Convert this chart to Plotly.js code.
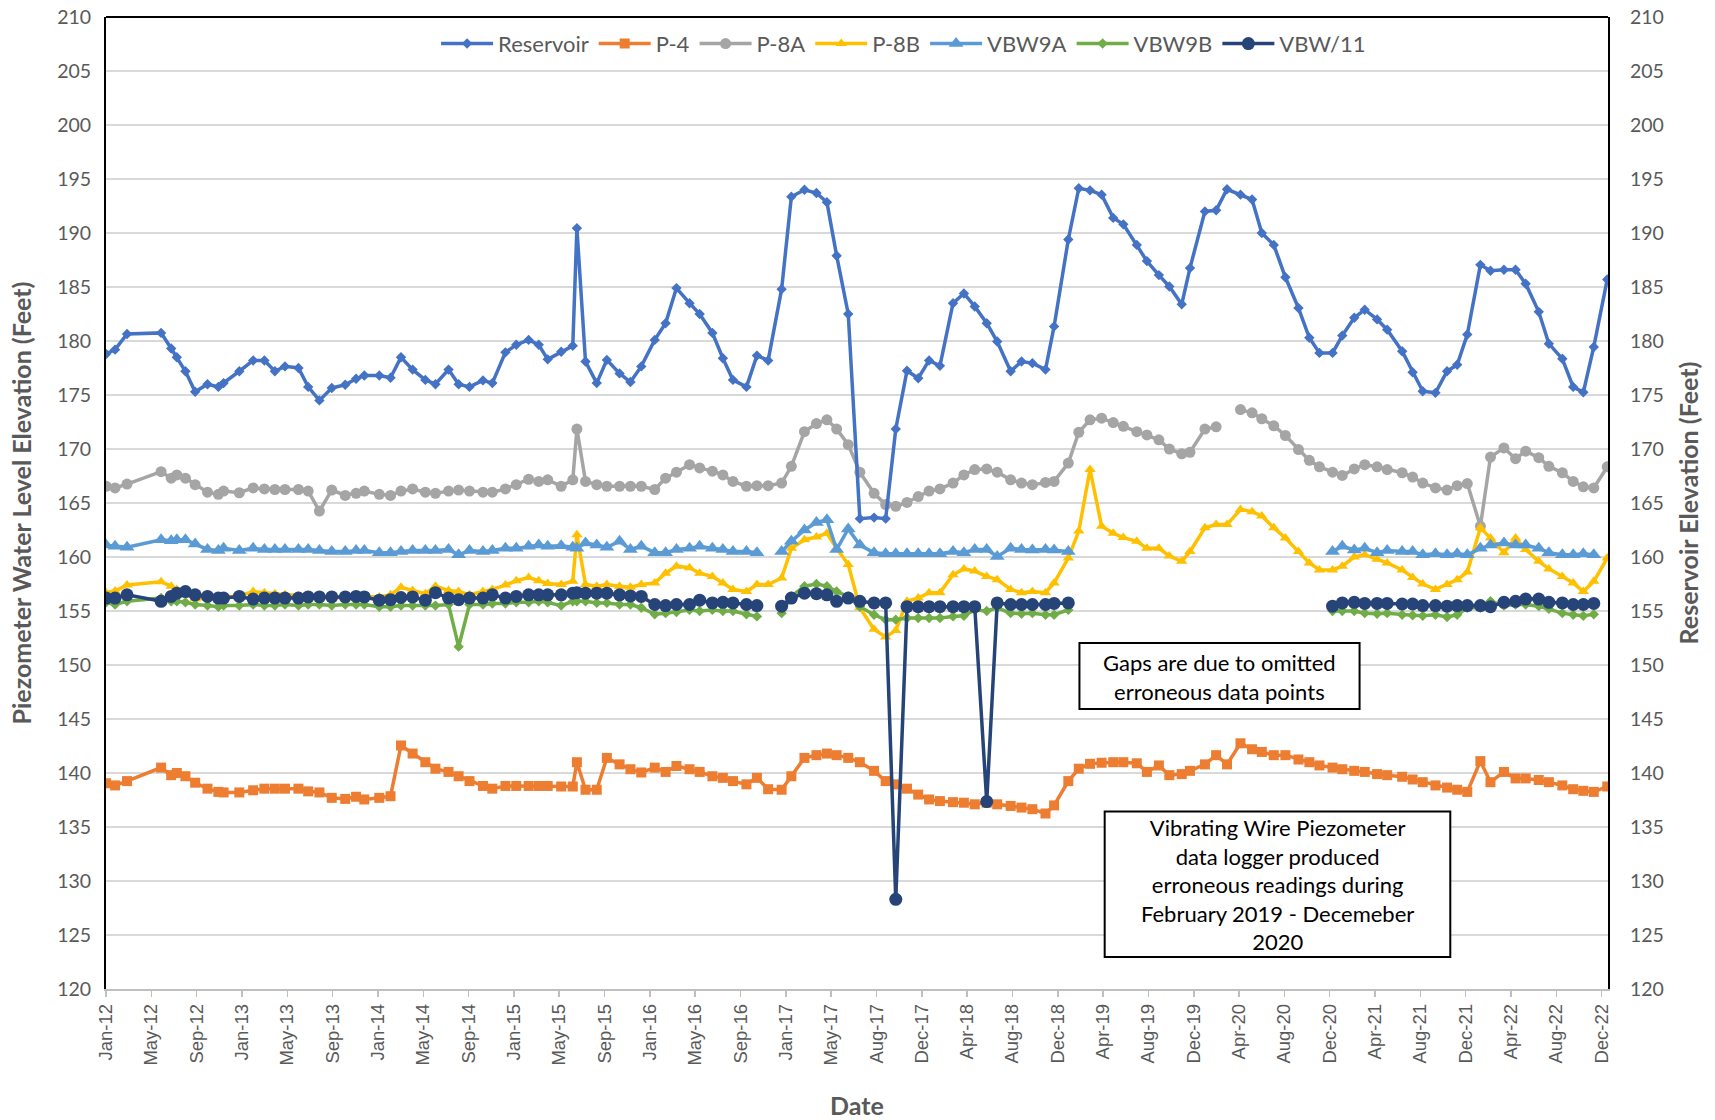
<!DOCTYPE html>
<html>
<head>
<meta charset="utf-8">
<script src="https://cdn.plot.ly/plotly-3.0.1.min.js"></script>
<style>html,body{margin:0;padding:0;background:#fff;}#chart{width:1715px;height:1120px;}</style>
</head>
<body>
<div id="chart"></div>
<script>
// Sample dates (shared by all series)
const sampleDates = [
'2012-01-12','2012-02-05','2012-03-08','2012-06-07','2012-07-04','2012-07-19','2012-08-11','2012-09-06','2012-10-09','2012-11-07','2012-11-21',
'2013-01-02','2013-02-08','2013-03-10','2013-04-07','2013-05-04','2013-06-09','2013-07-05','2013-08-04','2013-09-06','2013-10-12','2013-11-10','2013-12-02',
'2014-01-11','2014-02-10','2014-03-10','2014-04-10','2014-05-14','2014-06-10','2014-07-15','2014-08-11','2014-09-09','2014-10-15','2014-11-09','2014-12-14',
'2015-01-12','2015-02-14','2015-03-13','2015-04-06','2015-05-12','2015-06-12','2015-06-23','2015-07-16','2015-08-15','2015-09-11','2015-10-15','2015-11-13','2015-12-12',
'2016-01-17','2016-02-15','2016-03-15','2016-04-19','2016-05-16','2016-06-19','2016-07-17','2016-08-13','2016-09-18','2016-10-16','2016-11-15','2016-12-21',
'2017-01-16','2017-02-20','2017-03-24','2017-04-21','2017-05-17','2017-06-17','2017-07-18','2017-08-25','2017-09-25','2017-10-22','2017-11-21','2017-12-21',
'2018-01-19','2018-02-17','2018-03-24','2018-04-22','2018-05-21','2018-06-22','2018-07-20','2018-08-25','2018-09-23','2018-10-22','2018-11-26','2018-12-19',
'2019-01-26','2019-02-23','2019-03-25','2019-04-25','2019-05-26','2019-06-22','2019-07-28','2019-08-24','2019-09-25','2019-10-23','2019-11-25','2019-12-17',
'2020-01-26','2020-02-25','2020-03-25','2020-04-30','2020-05-31','2020-06-26','2020-07-28','2020-08-28','2020-10-02','2020-10-31','2020-11-27',
'2021-01-01','2021-01-27','2021-02-28','2021-03-28','2021-04-30','2021-05-27','2021-07-06','2021-08-03','2021-08-30','2021-10-03','2021-11-03','2021-11-30','2021-12-27',
'2022-01-31','2022-02-27','2022-04-04','2022-05-05','2022-06-01','2022-07-06','2022-08-02','2022-09-07','2022-10-06','2022-11-02','2022-11-30','2023-01-05'
];

const seriesNames = ['Reservoir','P-4','P-8A','P-8B','VBW9A','VBW9B','VBW/11'];

const reservoir = [
178.8,179.2,180.65,180.75,179.3,178.5,177.2,175.3,176.0,175.75,176.1,
177.2,178.2,178.2,177.2,177.65,177.5,175.75,174.5,175.65,175.95,176.5,176.8,
176.8,176.6,178.5,177.35,176.4,176.0,177.35,176.0,175.75,176.35,176.1,178.95,
179.65,180.1,179.65,178.3,179.0,179.55,190.45,178.1,176.1,178.25,177.0,176.2,177.65,
180.1,181.65,184.9,183.5,182.5,180.75,178.4,176.4,175.75,178.65,178.2,184.8,
193.35,194.0,193.7,192.85,187.9,182.5,163.55,163.65,163.55,171.85,177.25,176.55,
178.2,177.7,183.5,184.4,183.2,181.65,179.95,177.2,178.1,177.95,177.35,181.35,
189.4,194.15,193.95,193.55,191.4,190.8,188.9,187.4,186.1,185.05,183.4,186.75,
192.0,192.1,194.05,193.55,193.1,190.0,188.9,185.9,183.05,180.3,178.9,
178.9,180.5,182.15,182.9,182.0,181.05,179.05,177.1,175.35,175.2,177.2,177.8,180.6,
187.05,186.5,186.6,186.6,185.3,182.7,179.75,178.35,175.75,175.25,179.45,185.7
];

const p4 = [
139.05,138.85,139.25,140.5,139.8,140.0,139.7,139.1,138.55,138.25,138.2,
138.2,138.4,138.55,138.55,138.55,138.55,138.3,138.2,137.7,137.6,137.8,137.55,
137.7,137.85,142.55,141.8,141.0,140.4,140.1,139.7,139.25,138.8,138.55,138.8,
138.8,138.8,138.8,138.8,138.75,138.75,141.0,138.45,138.45,141.4,140.8,140.35,140.05,
140.5,140.1,140.65,140.35,140.1,139.7,139.55,139.25,138.95,139.55,138.5,138.45,
139.7,141.4,141.65,141.8,141.65,141.4,141.0,140.2,139.25,138.95,138.55,138.0,
137.55,137.4,137.3,137.25,137.1,137.25,137.1,136.95,136.8,136.65,136.25,137.0,
139.25,140.4,140.85,140.95,141.0,141.0,140.9,140.1,140.7,139.8,139.9,140.2,
140.8,141.65,140.8,142.75,142.2,141.95,141.65,141.65,141.25,141.0,140.7,
140.5,140.35,140.2,140.1,139.9,139.8,139.65,139.4,139.15,138.85,138.65,138.45,138.25,
141.1,139.15,140.1,139.5,139.5,139.35,139.15,138.85,138.5,138.35,138.25,138.75
];

const p8a = [
166.55,166.4,166.75,167.9,167.3,167.6,167.3,166.7,166.0,165.8,166.1,
165.95,166.4,166.3,166.25,166.25,166.25,166.1,164.25,166.2,165.7,165.9,166.1,
165.8,165.7,166.1,166.3,166.0,165.9,166.1,166.2,166.1,166.0,166.0,166.3,
166.7,167.2,167.0,167.15,166.55,167.15,171.85,167.0,166.7,166.55,166.55,166.55,166.55,
166.25,167.3,167.85,168.55,168.25,167.95,167.6,167.0,166.55,166.6,166.6,166.85,
168.4,171.6,172.35,172.7,171.85,170.4,167.85,165.9,164.85,164.7,165.05,165.6,
166.1,166.3,166.85,167.6,168.1,168.15,167.85,167.15,166.85,166.7,166.9,167.0,
168.7,171.55,172.7,172.85,172.45,172.1,171.6,171.3,170.85,170.0,169.55,169.7,
171.85,172.05,null,173.65,173.35,172.8,172.15,171.25,169.95,168.95,168.35,
167.85,167.55,168.15,168.55,168.35,168.1,167.8,167.4,166.85,166.4,166.2,166.6,166.8,
162.85,169.25,170.1,169.1,169.8,169.2,168.4,167.8,167.0,166.5,166.4,168.35
];

const p8b = [
156.7,156.85,157.4,157.7,157.3,157.0,156.6,156.1,156.2,156.2,156.3,
156.4,156.8,156.7,156.6,156.5,156.4,156.35,156.3,156.2,156.3,156.4,156.35,
156.3,156.5,157.2,156.9,156.6,157.3,156.9,156.8,156.5,156.8,157.0,157.4,
157.8,158.1,157.8,157.55,157.45,157.75,162.05,157.45,157.3,157.45,157.3,157.2,157.45,
157.6,158.5,159.15,159.0,158.5,158.2,157.6,157.0,156.8,157.45,157.45,158.05,
160.8,161.6,161.85,162.2,160.8,159.3,155.3,153.3,152.6,153.2,155.9,156.2,
156.7,156.7,158.35,158.9,158.7,158.2,157.9,157.0,156.7,156.8,156.7,157.6,
159.9,162.4,168.1,162.85,162.2,161.8,161.45,160.8,160.8,160.1,159.6,160.5,
162.7,163.0,163.0,164.4,164.2,163.8,162.7,161.75,160.5,159.45,158.8,
158.8,159.15,160.0,160.2,159.8,159.45,158.8,158.1,157.5,157.0,157.45,157.9,158.6,
162.7,161.75,160.4,161.75,160.7,159.6,158.9,158.2,157.6,156.8,157.75,159.9
];

const vbw9a = [
161.1,161.0,160.9,161.6,161.5,161.6,161.6,161.2,160.7,160.6,160.8,
160.6,160.8,160.7,160.7,160.7,160.7,160.7,160.6,160.5,160.5,160.6,160.6,
160.4,160.4,160.5,160.6,160.6,160.6,160.7,160.2,160.6,160.5,160.6,160.8,
160.8,161.0,161.1,161.0,161.05,160.9,160.8,161.3,161.1,160.9,161.45,160.7,161.0,
160.4,160.4,160.7,160.8,161.0,160.8,160.7,160.5,160.5,160.4,null,160.5,
161.45,162.5,163.2,163.45,160.7,162.6,161.1,160.4,160.3,160.3,160.3,160.3,
160.3,160.3,160.5,160.4,160.7,160.7,160.05,160.8,160.7,160.65,160.7,160.65,
160.5,null,null,null,null,null,null,null,null,null,null,null,
null,null,null,null,null,null,null,null,null,null,null,
160.5,161.0,160.65,160.8,160.4,160.6,160.5,160.5,160.2,160.3,160.2,160.3,
160.2,160.8,161.1,161.3,161.1,161.1,160.8,160.4,160.2,160.2,160.3,160.2
];

const vbw9b = [
155.8,155.6,155.9,156.2,155.9,155.9,155.8,155.6,155.5,155.4,155.5,
155.5,155.6,155.5,155.5,155.6,155.5,155.6,155.6,155.5,155.6,155.6,155.6,
155.4,155.4,155.5,155.5,155.5,155.5,155.6,151.7,155.6,155.6,155.7,155.7,
155.8,155.8,155.9,155.8,155.5,155.9,155.9,155.9,155.75,155.75,155.6,155.6,155.3,
154.7,154.8,154.9,155.1,155.0,155.1,155.0,155.0,154.7,154.5,null,154.8,
156.35,157.3,157.5,157.3,156.8,156.35,155.4,154.65,154.2,154.2,154.35,154.35,
154.35,154.35,154.5,154.55,155.1,155.0,155.3,154.8,154.75,154.8,154.65,154.65,
155.1,null,null,null,null,null,null,null,null,null,null,null,
null,null,null,null,null,null,null,null,null,null,null,
155.0,155.0,155.0,154.8,154.75,154.8,154.65,154.6,154.55,154.65,154.45,154.65,
155.3,155.3,155.9,155.5,155.6,155.6,155.45,155.2,154.8,154.65,154.55,154.7
];

const vbw11 = [
156.2,156.2,156.5,155.9,156.35,156.65,156.8,156.5,156.35,156.2,156.2,
156.35,156.1,156.2,156.2,156.2,156.2,156.3,156.3,156.3,156.3,156.35,156.3,
156.0,156.05,156.25,156.3,156.0,156.7,156.2,156.05,156.2,156.2,156.5,156.2,
156.35,156.5,156.5,156.5,156.5,156.65,156.7,156.65,156.65,156.65,156.5,156.4,156.35,
155.6,155.5,155.6,155.6,156.0,155.75,155.8,155.75,155.6,155.5,null,155.45,
156.2,156.65,156.6,156.5,155.9,156.2,155.9,155.75,155.75,128.3,155.4,155.4,
155.4,155.4,155.4,155.4,155.4,137.35,155.75,155.6,155.6,155.6,155.6,155.7,
155.75,null,null,null,null,null,null,null,null,null,null,null,
null,null,null,null,null,null,null,null,null,null,null,
155.45,155.75,155.8,155.7,155.7,155.7,155.65,155.65,155.5,155.5,155.45,155.5,
155.5,155.5,155.4,155.8,155.9,156.1,156.1,155.8,155.75,155.6,155.6,155.7
];

const yTickVals = [120,125,130,135,140,145,150,155,160,165,170,175,180,185,190,195,200,205,210];
const noteGaps = 'Gaps are due to omitted<br>erroneous data points';
const noteVW = 'Vibrating Wire Piezometer<br>data logger produced<br>erroneous readings during<br>February 2019 - Decemeber<br>2020';

// ---- styling ----
const colors = {
  'Reservoir':'#4472C4','P-4':'#ED7D31','P-8A':'#A5A5A5','P-8B':'#FFC000',
  'VBW9A':'#5B9BD5','VBW9B':'#70AD47','VBW/11':'#264478'
};
const markerStyle = {
  'Reservoir':{symbol:'diamond',size:8},
  'P-4':{symbol:'square',size:10},
  'P-8A':{symbol:'circle',size:11},
  'P-8B':{symbol:'triangle-up',size:10},
  'VBW9A':{symbol:'triangle-up',size:13},
  'VBW9B':{symbol:'diamond',size:8},
  'VBW/11':{symbol:'circle',size:13}
};
const values = {'Reservoir':reservoir,'P-4':p4,'P-8A':p8a,'P-8B':p8b,'VBW9A':vbw9a,'VBW9B':vbw9b,'VBW/11':vbw11};

function mk(name, rank, yaxis){
  return {
    type:'scatter', mode:'lines+markers', name:name, x:sampleDates, y:values[name],
    yaxis:yaxis, legendrank:rank, connectgaps:false,
    line:{color:colors[name], width:3.5},
    marker:{color:colors[name], symbol:markerStyle[name].symbol, size:markerStyle[name].size, line:{width:0}}
  };
}
const traces = [
  mk('P-4',2,'y'), mk('P-8A',3,'y'), mk('P-8B',4,'y'), mk('VBW9A',5,'y'),
  mk('VBW9B',6,'y'), mk('VBW/11',7,'y'), mk('Reservoir',1,'y2')
];

const DAY = 86400000;
const fontMain = 'Lato, "Open Sans", sans-serif';
const grayTxt = '#595959';

const layout = {
  width:1715, height:1120,
  margin:{l:106, r:107, t:17, b:131},
  paper_bgcolor:'#ffffff', plot_bgcolor:'#ffffff',
  font:{family:fontMain, color:grayTxt},
  showlegend:true,
  xaxis:{
    type:'date',
    range:['2012-01-11 19:12','2023-01-07'],
    tick0:'2012-01-11 19:12', dtick:121.1*DAY, tickformat:'%b-%y',
    tickangle:-90,
    tickfont:{family:'"Liberation Sans", Arial, sans-serif', size:18.5, color:grayTxt},
    showgrid:false, zeroline:false,
    showline:true, linecolor:'#bfbfbf', linewidth:1.5,
    ticks:'outside', ticklen:6, tickcolor:'#bfbfbf', tickwidth:1.5,
    title:{text:'<b>Date</b>', font:{family:fontMain, size:25, color:grayTxt}, standoff:34},
    automargin:false
  },
  yaxis:{
    range:[120,210], tickvals:yTickVals,
    showgrid:true, gridcolor:'#d9d9d9', gridwidth:1.3, zeroline:false,
    showline:true, linecolor:'#000000', linewidth:2,
    ticks:'', ticklabelstandoff:9,
    tickfont:{family:fontMain, size:19.5, color:grayTxt},
    title:{text:'<b>Piezometer Water Level Elevation (Feet)</b>', font:{family:fontMain, size:25, color:grayTxt}, standoff:18},
    automargin:false
  },
  yaxis2:{
    range:[120,210], tickvals:yTickVals, overlaying:'y', side:'right',
    showgrid:false, zeroline:false,
    showline:true, linecolor:'#000000', linewidth:2,
    ticks:'', ticklabelstandoff:16,
    tickfont:{family:fontMain, size:19.5, color:grayTxt},
    title:{text:'<b>Reservoir Elevation (Feet)</b>', font:{family:fontMain, size:25, color:grayTxt}, standoff:18},
    automargin:false
  },
  legend:{
    orientation:'h', x:0.531, xanchor:'center', y:0.9725, yanchor:'middle',
    font:{family:fontMain, size:22, color:grayTxt}, bgcolor:'rgba(0,0,0,0)',
    itemwidth:52, traceorder:'normal', itemclick:false
  },
  shapes:[
    {type:'line', xref:'paper', yref:'paper', x0:0, x1:1, y0:1, y1:1, line:{color:'#000000', width:2}},
    {type:'rect', xref:'paper', yref:'paper', x0:0.6481, x1:0.8346, y0:0.2881, y1:0.356,
     line:{color:'#000000', width:2}, fillcolor:'#ffffff'},
    {type:'rect', xref:'paper', yref:'paper', x0:0.6649, x1:0.895, y0:0.0329, y1:0.1825,
     line:{color:'#000000', width:2}, fillcolor:'#ffffff'}
  ],
  annotations:[
    {xref:'paper', yref:'paper', x:0.7413, y:0.3215, xanchor:'center', yanchor:'middle',
     text:noteGaps, showarrow:false, align:'center', font:{family:fontMain, size:22, color:'#000000'}},
    {xref:'paper', yref:'paper', x:0.78, y:0.1072, xanchor:'center', yanchor:'middle',
     text:noteVW, showarrow:false, align:'center', font:{family:fontMain, size:22, color:'#000000'}}
  ]
};

Plotly.newPlot('chart', traces, layout, {displayModeBar:false, staticPlot:true});
</script>
</body>
</html>
